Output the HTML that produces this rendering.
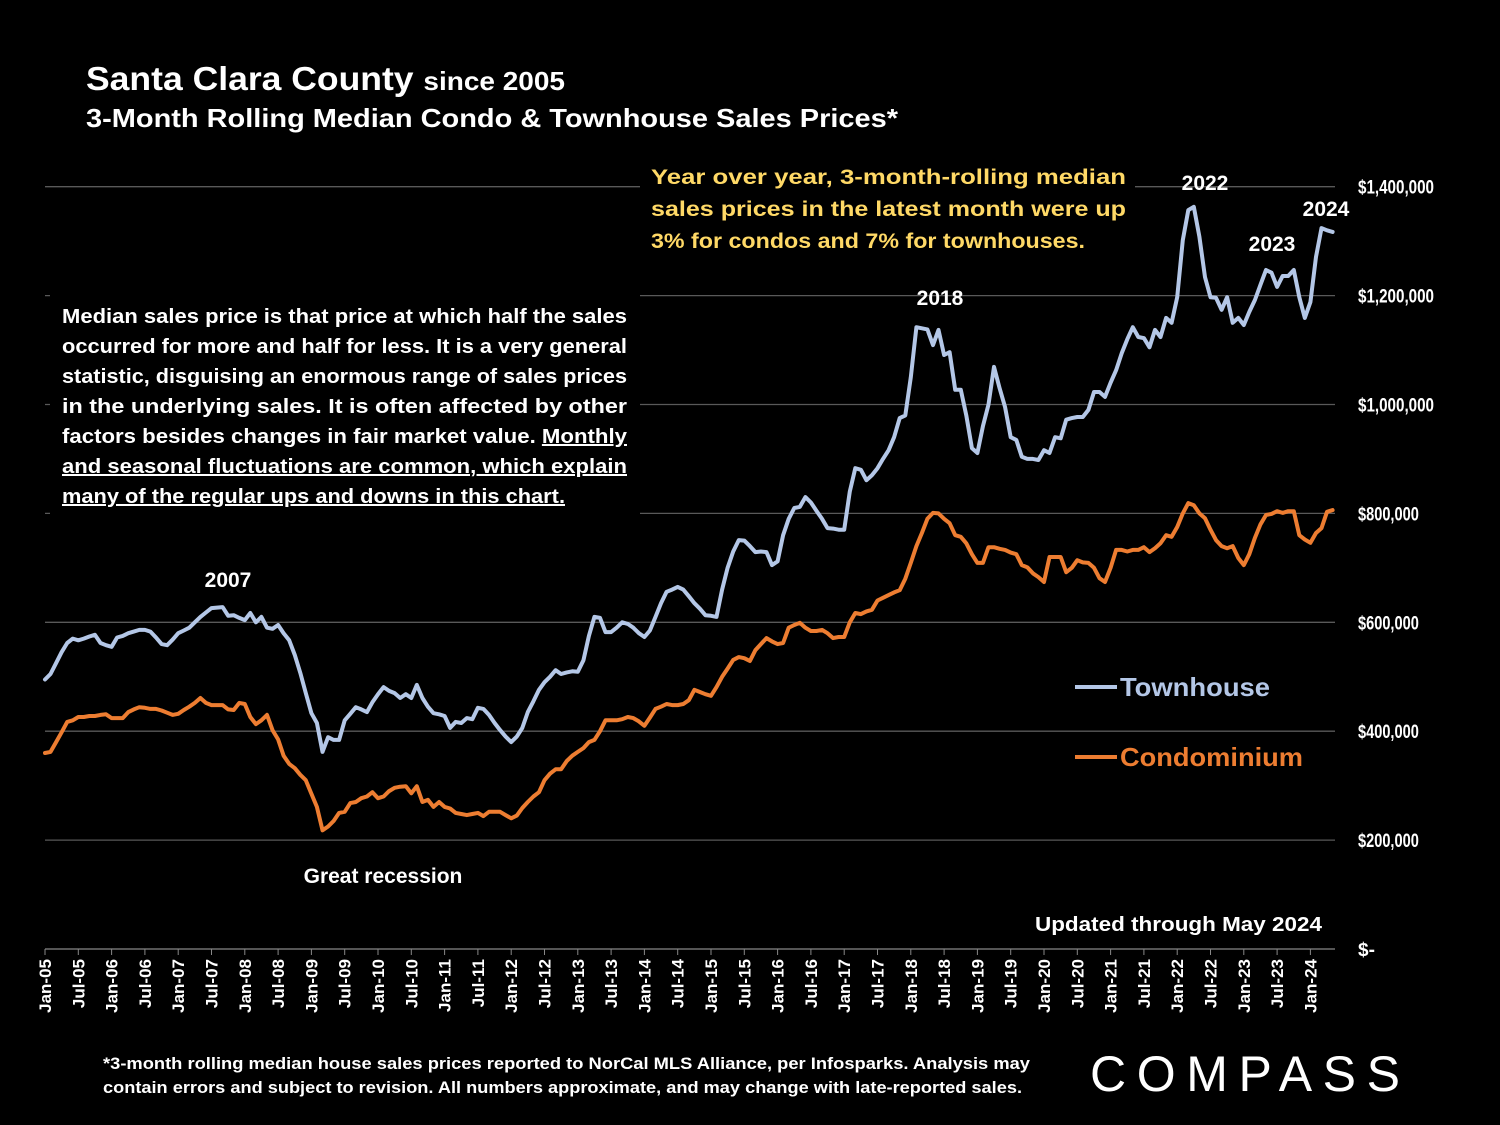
<!DOCTYPE html>
<html><head><meta charset="utf-8">
<style>
body{margin:0;background:#000;}
svg{display:block;font-family:"Liberation Sans",sans-serif;}
.t{fill:#fff;font-weight:bold;}
</style></head>
<body>
<div style="position:relative;width:1500px;height:1125px;overflow:hidden;background:#000">
<svg id="chart" width="1500" height="1125">
<text x="86" y="90" class="t" font-size="33" textLength="479" lengthAdjust="spacingAndGlyphs">Santa Clara County <tspan font-size="26">since 2005</tspan></text>
<text x="86" y="127" class="t" font-size="26" textLength="812" lengthAdjust="spacingAndGlyphs">3-Month Rolling Median Condo &amp; Townhouse Sales Prices*</text>
<g id="grid"></g>
<g id="xaxis"></g>
<g id="series"></g>
<rect x="50" y="290" width="590" height="225" fill="#000"/>
<rect x="640" y="160" width="495" height="100" fill="#000"/>
<g class="t" font-size="20">
<text x="62" y="323" textLength="565" lengthAdjust="spacingAndGlyphs">Median sales price is that price at which half the sales</text>
<text x="62" y="353" textLength="565" lengthAdjust="spacingAndGlyphs">occurred for more and half for less. It is a very general</text>
<text x="62" y="383" textLength="565" lengthAdjust="spacingAndGlyphs">statistic, disguising an enormous range of sales prices</text>
<text x="62" y="413" textLength="565" lengthAdjust="spacingAndGlyphs">in the underlying sales. It is often affected by other</text>
<text x="62" y="443" textLength="565" lengthAdjust="spacingAndGlyphs">factors besides changes in fair market value. <tspan text-decoration="underline">Monthly</tspan></text>
<text x="62" y="473" textLength="565" lengthAdjust="spacingAndGlyphs" text-decoration="underline">and seasonal fluctuations are common, which explain</text>
<text x="62" y="503" textLength="503" lengthAdjust="spacingAndGlyphs" text-decoration="underline">many of the regular ups and downs in this chart.</text>
</g>
<g font-size="21.5" font-weight="bold" fill="#ffd966">
<text x="651" y="184" textLength="475" lengthAdjust="spacingAndGlyphs">Year  over  year,  3-month-rolling  median</text>
<text x="651" y="216" textLength="475" lengthAdjust="spacingAndGlyphs">sales prices in the latest month were up</text>
<text x="651" y="248" textLength="434" lengthAdjust="spacingAndGlyphs">3% for condos and 7% for townhouses.</text>
</g>
<text x="228" y="587" class="t" font-size="21" text-anchor="middle">2007</text>
<text x="383" y="883" class="t" font-size="21" text-anchor="middle">Great recession</text>
<text x="940" y="305" class="t" font-size="21" text-anchor="middle">2018</text>
<text x="1205" y="190" class="t" font-size="21" text-anchor="middle">2022</text>
<text x="1272" y="251" class="t" font-size="21" text-anchor="middle">2023</text>
<text x="1326" y="216" class="t" font-size="21" text-anchor="middle">2024</text>
<text x="1035" y="931" class="t" font-size="20" textLength="287" lengthAdjust="spacingAndGlyphs">Updated through May 2024</text>
<g>
<line x1="1075" y1="687" x2="1117" y2="687" stroke="#b4c7e7" stroke-width="4"/>
<text x="1120" y="696" font-size="26" font-weight="bold" fill="#b4c7e7" textLength="150" lengthAdjust="spacingAndGlyphs">Townhouse</text>
<line x1="1075" y1="757" x2="1117" y2="757" stroke="#ed7d31" stroke-width="4"/>
<text x="1120" y="766" font-size="26" font-weight="bold" fill="#ed7d31" textLength="183" lengthAdjust="spacingAndGlyphs">Condominium</text>
</g>
<text x="103" y="1069" class="t" font-size="16.5" textLength="927" lengthAdjust="spacingAndGlyphs">*3-month rolling median house sales prices reported to NorCal MLS Alliance, per Infosparks. Analysis may</text>
<text x="103" y="1093" class="t" font-size="16.5" textLength="919" lengthAdjust="spacingAndGlyphs">contain errors and subject to revision. All numbers approximate, and may change with late-reported sales.</text>
<text x="1090" y="1091" fill="#fff" font-size="50" textLength="310" lengthAdjust="spacing">COMPASS</text>
</svg>
</div>
<script>
const yTicks=[0,200000,400000,600000,800000,1000000,1200000,1400000];
const yTickLabels=["$-","$200,000","$400,000","$600,000","$800,000","$1,000,000","$1,200,000","$1,400,000"];
const monthNames=["Jan","Jul"];
const townhouse=[495,505,525,545,562,570,567,570,574,577,562,558,
555,572,575,580,583,586,586,583,572,560,558,568,
580,585,590,600,610,618,626,627,628,612,613,608,
604,617,600,610,590,588,595,580,567,540,507,470,
433,415,362,389,384,384,420,432,444,440,435,453,
468,481,474,470,461,468,461,485,461,445,433,431,
428,406,417,415,424,422,443,441,430,415,402,390,
380,390,406,435,455,476,490,500,512,505,508,510,
509,530,575,610,608,582,582,590,600,597,590,580,
573,585,610,635,656,660,665,660,648,635,625,613,
612,610,660,700,730,751,750,740,729,730,729,705,
712,760,790,810,812,830,820,805,790,773,772,770,
770,840,883,880,861,870,883,900,916,940,975,980,
1050,1142,1140,1138,1109,1137,1091,1096,1027,1027,980,920,
911,960,1000,1069,1030,995,940,935,904,900,900,898,
916,911,940,938,972,975,977,977,990,1023,1023,1014,
1040,1063,1094,1120,1142,1124,1122,1105,1137,1124,1159,1150,
1197,1302,1357,1363,1308,1234,1197,1196,1174,1197,1150,1159,
1146,1170,1192,1220,1247,1242,1216,1236,1236,1247,1197,1159,
1188,1271,1324,1320,1317];
const condo=[360,362,380,398,417,420,426,426,428,428,430,431,
424,424,424,435,440,444,443,441,441,438,434,430,
432,439,445,452,461,452,448,448,448,440,439,452,
450,426,413,420,430,402,385,355,340,332,320,310,
285,261,218,225,235,250,252,268,270,277,280,288,
277,280,290,296,298,299,286,299,270,274,261,270,
261,258,250,248,246,248,250,244,252,252,252,246,
240,245,259,270,280,288,310,322,330,330,345,355,
362,369,380,384,400,420,420,420,422,426,424,418,
410,425,441,445,450,448,448,450,457,476,472,468,
465,481,500,515,531,536,534,529,549,560,571,565,
560,562,590,595,599,590,584,584,586,580,571,573,
573,600,617,615,620,623,640,645,650,655,659,680,
709,740,764,790,801,800,790,782,760,757,745,725,
709,709,738,738,735,733,728,725,705,701,690,683,
674,720,720,720,692,700,714,710,709,700,681,674,
700,733,733,730,733,733,738,729,736,745,760,757,
775,800,819,815,800,791,770,751,740,736,740,718,
705,725,755,780,797,799,804,801,804,804,760,752,
746,764,773,803,806];
const startYear=2005;

const NS="http://www.w3.org/2000/svg";
const X0=45,DX=5.55,Y0=949,PX_PER=108.9/200000;
function xs(i){return X0+i*DX;}
function ys(v){return Y0-v*PX_PER;}
function mk(tag,attrs,parent){const e=document.createElementNS(NS,tag);for(const k in attrs)e.setAttribute(k,attrs[k]);parent.appendChild(e);return e;}
const grid=document.getElementById('grid');
yTicks.forEach((v,k)=>{
  if(v>0){
    const l=mk('line',{x1:45,x2:1335,y1:ys(v),y2:ys(v),stroke:'#595959','stroke-width':1.3},grid);
    
    
  }
  const lab=yTickLabels[k];
  const t=mk('text',{x:1358,y:ys(v)+7,fill:'#fff','font-size':19,'font-weight':'bold'},grid);
  if(lab.length>2){t.setAttribute('textLength',lab.length*7.6);t.setAttribute('lengthAdjust','spacingAndGlyphs');}
  t.textContent=lab;
  
  
});
const xa=document.getElementById('xaxis');
const ax=mk('line',{x1:45,x2:1335,y1:Y0,y2:Y0,stroke:'#888','stroke-width':1.3},xa);


const n=townhouse.length;
for(let i=0;i<n;i+=6){
  const x=xs(i);
  const tk=mk('line',{x1:x,x2:x,y1:Y0,y2:Y0+6,stroke:'#888','stroke-width':1},xa);
  
  
  const yr=startYear+Math.floor(i/12);
  const lab=monthNames[(i%12)/6]+'-'+String(yr%100).padStart(2,'0');
  const t=mk('text',{x:0,y:0,fill:'#fff','font-size':17,'font-weight':'bold','text-anchor':'end',transform:`translate(${x+6},${Y0+10}) rotate(-90)`},xa);
  t.textContent=lab;
  
  
}
const sg=document.getElementById('series');
function line(data,color,name){
  const d=data.map((v,i)=>(i?'L':'M')+xs(i).toFixed(1)+' '+ys(v*1000).toFixed(1)).join(' ');
  const p=mk('path',{d:d,fill:'none',stroke:color,'stroke-width':4,'stroke-linejoin':'round','stroke-linecap':'round'},sg);
  
  
}
line(townhouse,'#b4c7e7','townhouse-line');
line(condo,'#ed7d31','condominium-line');
</script>
</body></html>
